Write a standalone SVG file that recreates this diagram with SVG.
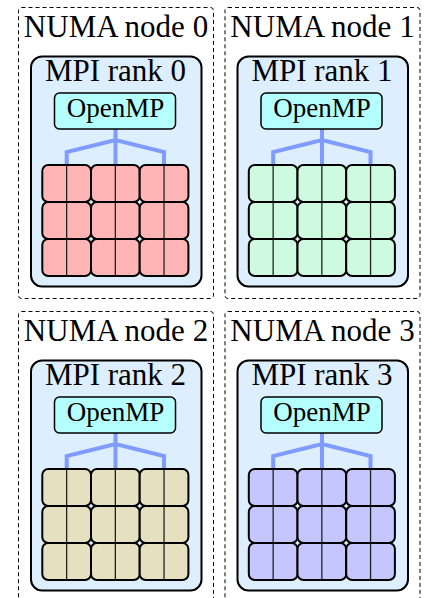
<svg xmlns="http://www.w3.org/2000/svg" width="425" height="598" viewBox="0 0 425 598">
<style>
text{font-family:"Liberation Serif","Times New Roman",serif;fill:#000;text-anchor:middle}
.numa{fill:#fff;stroke:#000;stroke-width:1;stroke-dasharray:4 3}
.numat{font-size:31px}
.mpi{fill:#ddeeff;stroke:#000;stroke-width:2}
.mpit{font-size:31px}
.omp{fill:#b5ffff;stroke:#000;stroke-width:1.5}
.ompt{font-size:27px}
.blk{stroke:#000;stroke-width:2}
.div{stroke:#222;stroke-width:1.3}
.conn{fill:none;stroke:#7f9bff;stroke-width:4;stroke-linejoin:miter}
.c0{fill:#ffb5b5}.c1{fill:#cefadf}.c2{fill:#e5e0bf}.c3{fill:#c6c6ff}
</style>
<defs>
<g id="gridcell">
<rect class="blk" x="0" y="0" width="48.7" height="37" rx="6"/>
<line class="div" x1="24.35" y1="1" x2="24.35" y2="36"/>
</g>
<path id="tree" class="conn" d="M115.5,129 V166 M66.7,166 V152 L115.5,140 L164,152 V166"/>
</defs>
<g id="numa-nodes">
<g id="numa0"><rect class="numa" x="18.5" y="7.5" width="195" height="291" rx="3"/><text class="numat" x="116" y="36.5">NUMA node 0</text></g>
<g id="numa1" transform="translate(206.5,0)"><rect class="numa" x="18.5" y="7.5" width="195" height="291" rx="3"/><text class="numat" x="116" y="36.5">NUMA node 1</text></g>
<g id="numa2" transform="translate(0,304)"><rect class="numa" x="18.5" y="7.5" width="195" height="291" rx="3"/><text class="numat" x="116" y="36.5">NUMA node 2</text></g>
<g id="numa3" transform="translate(206.5,304)"><rect class="numa" x="18.5" y="7.5" width="195" height="291" rx="3"/><text class="numat" x="116" y="36.5">NUMA node 3</text></g>
</g>
<g id="mpi-ranks">
<g id="mpi0"><rect class="mpi" x="31" y="56.5" width="170.5" height="230" rx="11"/><text class="mpit" x="115.5" y="81">MPI rank 0</text></g>
<g id="mpi1" transform="translate(206.5,0)"><rect class="mpi" x="31" y="56.5" width="170.5" height="230" rx="11"/><text class="mpit" x="115.5" y="81">MPI rank 1</text></g>
<g id="mpi2" transform="translate(0,304)"><rect class="mpi" x="31" y="56.5" width="170.5" height="230" rx="11"/><text class="mpit" x="115.5" y="81">MPI rank 2</text></g>
<g id="mpi3" transform="translate(206.5,304)"><rect class="mpi" x="31" y="56.5" width="170.5" height="230" rx="11"/><text class="mpit" x="115.5" y="81">MPI rank 3</text></g>
</g>
<g id="connectors">
<use href="#tree"/>
<use href="#tree" transform="translate(206.5,0)"/>
<use href="#tree" transform="translate(0,304)"/>
<use href="#tree" transform="translate(206.5,304)"/>
</g>
<g id="openmp">
<g id="omp0"><rect class="omp" x="54.5" y="93" width="121" height="36" rx="5"/><text class="ompt" x="115.5" y="117">OpenMP</text></g>
<g id="omp1" transform="translate(206.5,0)"><rect class="omp" x="54.5" y="93" width="121" height="36" rx="5"/><text class="ompt" x="115.5" y="117">OpenMP</text></g>
<g id="omp2" transform="translate(0,304)"><rect class="omp" x="54.5" y="93" width="121" height="36" rx="5"/><text class="ompt" x="115.5" y="117">OpenMP</text></g>
<g id="omp3" transform="translate(206.5,304)"><rect class="omp" x="54.5" y="93" width="121" height="36" rx="5"/><text class="ompt" x="115.5" y="117">OpenMP</text></g>
</g>
<g id="grid0" class="c0" transform="translate(42.3,165)">
<use href="#gridcell"/><use href="#gridcell" x="48.7"/><use href="#gridcell" x="97.4"/>
<use href="#gridcell" y="37"/><use href="#gridcell" x="48.7" y="37"/><use href="#gridcell" x="97.4" y="37"/>
<use href="#gridcell" y="74"/><use href="#gridcell" x="48.7" y="74"/><use href="#gridcell" x="97.4" y="74"/>
</g>
<g id="grid1" class="c1" transform="translate(248.8,165)">
<use href="#gridcell"/><use href="#gridcell" x="48.7"/><use href="#gridcell" x="97.4"/>
<use href="#gridcell" y="37"/><use href="#gridcell" x="48.7" y="37"/><use href="#gridcell" x="97.4" y="37"/>
<use href="#gridcell" y="74"/><use href="#gridcell" x="48.7" y="74"/><use href="#gridcell" x="97.4" y="74"/>
</g>
<g id="grid2" class="c2" transform="translate(42.3,469)">
<use href="#gridcell"/><use href="#gridcell" x="48.7"/><use href="#gridcell" x="97.4"/>
<use href="#gridcell" y="37"/><use href="#gridcell" x="48.7" y="37"/><use href="#gridcell" x="97.4" y="37"/>
<use href="#gridcell" y="74"/><use href="#gridcell" x="48.7" y="74"/><use href="#gridcell" x="97.4" y="74"/>
</g>
<g id="grid3" class="c3" transform="translate(248.8,469)">
<use href="#gridcell"/><use href="#gridcell" x="48.7"/><use href="#gridcell" x="97.4"/>
<use href="#gridcell" y="37"/><use href="#gridcell" x="48.7" y="37"/><use href="#gridcell" x="97.4" y="37"/>
<use href="#gridcell" y="74"/><use href="#gridcell" x="48.7" y="74"/><use href="#gridcell" x="97.4" y="74"/>
</g>
</svg>
